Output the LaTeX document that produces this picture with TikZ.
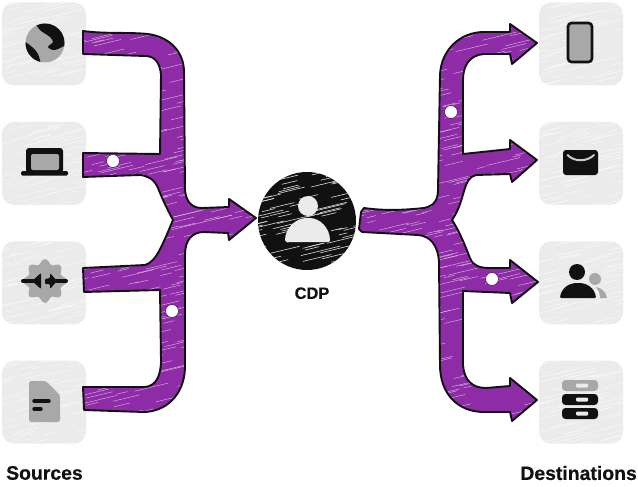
\documentclass[tikz,border=0pt]{standalone}
\usepackage{fontspec}
\setmainfont[BoldFeatures={FakeBold=0.5}]{Liberation Sans}
\usepackage{tikz}
\usetikzlibrary{positioning}
\definecolor{plum}{HTML}{8E2BA6}
\definecolor{ink}{HTML}{111111}
\definecolor{iconmid}{HTML}{A8A8A8}
\definecolor{tilegrey}{HTML}{EBEBEB}
\newcommand{\sketchhatch}[5]{%
  \foreach \i in {1,...,#4}{%
    \pgfmathsetmacro\hx{rnd*#2-20}
    \pgfmathsetmacro\hy{rnd*#3}
    \pgfmathsetmacro\hl{8+rnd*26}
    \draw[#5] ([shift={(\hx,\hy)}]#1) -- ++(\hl,-0.24*\hl);
  }}
\newcommand{\sourceflow}{(83,31) .. controls (105,34) and (128,32) .. (148,34)
  .. controls (170,37) and (184,52) .. (184,72) -- (185,190)
  .. controls (186,202) and (192,208) .. (202,208) -- (229,207) -- (229,199) -- (256,218) -- (229,240) -- (228,233)
  -- (204,232) .. controls (192,232) and (185,240) .. (185,255) -- (185,368)
  .. controls (184,396) and (165,412) .. (143,412) -- (84,410) -- (83,387) -- (145,387)
  .. controls (156,386) and (161,376) .. (161,360) -- (160,290) -- (84,292) -- (83,268) -- (145,265)
  .. controls (156,262) and (162,246) .. (173,220) .. controls (166,207) and (162,198) .. (158,188)
  .. controls (154,179) and (148,176) .. (140,175) -- (83,177) -- (83,153) -- (160,154) -- (161,75)
  .. controls (160,63) and (155,56) .. (145,56) -- (83,54) -- cycle}
\newcommand{\destflow}{(364,208) .. controls (385,211) and (405,210) .. (424,208)
  .. controls (434,206) and (438,200) .. (438,190) -- (440,75)
  .. controls (441,50) and (460,32) .. (484,32) -- (510,32) -- (510,24) -- (537,43) -- (512,64) -- (510,54)
  -- (484,54) .. controls (470,55) and (463,65) .. (463,80) -- (463,154) -- (510,149) -- (510,140) -- (537,160) -- (512,182) -- (510,174)
  -- (476,175) .. controls (462,178) and (466,200) .. (452,220)
  .. controls (460,232) and (466,248) .. (470,258) .. controls (473,266) and (480,268) .. (490,268)
  -- (510,268) -- (510,260) -- (538,282) -- (512,303) -- (510,293) -- (463,291) -- (463,365)
  .. controls (464,380) and (472,388) .. (486,388) -- (510,386) -- (510,378) -- (537,400) -- (512,421) -- (510,412)
  -- (484,412) .. controls (458,412) and (440,394) .. (440,365) -- (439,262)
  .. controls (438,245) and (430,236) .. (418,235) -- (362,232) -- (359,229) -- (361,212) -- cycle}
\begin{document}
\begin{tikzpicture}[x=1pt, y=-1pt,
  tile/.style={fill=tilegrey, rounded corners=12pt, minimum width=84pt, minimum height=83pt, inner sep=0pt,
               path picture={\sketchhatch{path picture bounding box.north west}{100}{90}{70}{white!70!tilegrey, line width=.5pt}}},
  flowline/.style={draw=ink, line width=1.9pt, line join=round},
  dot/.style={circle, fill=white, draw=plum!60!black, line width=.6pt, minimum size=13pt, inner sep=0pt},
  heading/.style={font=\bfseries\fontsize{19.4}{22}\selectfont, text=ink, inner sep=0pt}]
\pgfmathsetseed{11}
\useasboundingbox (0,0) rectangle (638,487);
% tiles
\node[tile] (web) at (44,44) {};
\node[tile, below=36pt of web] (laptop) {};
\node[tile, below=36pt of laptop] (plug) {};
\node[tile, below=36pt of plug] (doc) {};
\node[tile] (phone) at (581,44) {};
\node[tile, below=36pt of phone] (mail) {};
\node[tile, below=36pt of mail] (people) {};
\node[tile, below=36pt of people] (stack) {};
% flows
\coordinate (srcorigin) at (80,25);
\coordinate (dstorigin) at (355,20);
\fill[plum] \sourceflow;
\begin{scope}
  \clip \sourceflow;
  \sketchhatch{srcorigin}{200}{400}{420}{white!70!plum, line width=.4pt}
\end{scope}
\draw[flowline] \sourceflow;
\fill[plum] \destflow;
\begin{scope}
  \clip \destflow;
  \sketchhatch{dstorigin}{210}{410}{420}{white!70!plum, line width=.4pt}
\end{scope}
\draw[flowline] \destflow;
\node[dot] (dota) at (113,161) {};
\node[dot] (dotb) at (172,311) {};
\node[dot] (dotc) at (451,112) {};
\node[dot] (dotd) at (492,279) {};
% centre
\node[circle, fill=ink, minimum size=98pt, inner sep=0pt,
      path picture={\sketchhatch{path picture bounding box.north west}{118}{98}{80}{white!85!ink, line width=.6pt}}] (cdp) at (307,221) {};
\fill[tilegrey] (308,206) circle (10);
\fill[tilegrey, rounded corners=1.5pt] (285,242) .. controls (285,228) and (296,218) .. (308,218) .. controls (320,218) and (330,228) .. (330,242) -- cycle;
\node[below=17pt of cdp, xshift=5pt, font=\bfseries\fontsize{16.4}{18}\selectfont, text=ink, inner sep=0pt] (cdplabel) {CDP};
\node[heading, anchor=west] (sources) at (6,473) {Sources};
\node[heading, anchor=east] (destinations) at (637,473) {Destinations};
% source icons
\fill[iconmid] (45,43) circle (19.5);
\begin{scope}
  \clip (45,43) circle (19.5);
  \fill[ink] plot[smooth cycle] coordinates {(37,22) (39,29) (44,33) (50,37) (53,42) (48,47) (55,50) (68,42) (64,24)};
  \fill[ink] plot[smooth cycle] coordinates {(23,42) (32,47) (38,54) (40,66) (24,62)};
\end{scope}
\fill[ink, rounded corners=3pt] (26,148) rectangle (63,173);
\fill[iconmid, rounded corners=2pt] (31,154) rectangle (59,170);
\fill[ink, rounded corners=1.5pt] (21,171) rectangle (68,175.5);
\fill[iconmid] plot[smooth cycle, domain=0:352, samples=45] ({45+(19.5+2.5*cos(8*\x))*cos(\x)},{281+(19.5+2.5*cos(8*\x))*sin(\x)});
\draw[ink, line width=4pt, line cap=round] (23,281) -- (34,281) (56,281) -- (66,281);
\fill[ink, rounded corners=1pt] (32,281) -- (41,273) -- (41,289) -- cycle;
\fill[ink, rounded corners=1pt] (50,273) -- (57,281) -- (50,289) -- (50,284) -- (45,284) -- (45,279) -- (50,278) -- cycle;
\fill[iconmid, rounded corners=2.5pt] (29,381) -- (46,381) -- (60,395) -- (60,422) -- (29,422) -- cycle;
\draw[ink, line width=3.4pt, line cap=round] (34,401) -- (49,401) (34,409) -- (41,409);
% destination icons
\draw[ink, fill=iconmid, line width=2.6pt, rounded corners=3.5pt] (568,23) rectangle (592,62);
\fill[ink, rounded corners=3pt] (563,150) rectangle (598,175);
\draw[iconmid!60, line width=2pt, line cap=round] (567.5,155) .. controls (574,162) and (587,162) .. (594,155);
\fill[iconmid] (595,279) circle (6);
\fill[iconmid] (596,287) .. controls (602,288) and (606,292) .. (607,298) -- (600,298) .. controls (600,293) and (598,290) .. (596,287) -- cycle;
\fill[ink] (577,272) circle (8);
\fill[ink, rounded corners=1pt] (560,298) .. controls (561,289) and (568,283) .. (578,283) .. controls (588,283) and (595,289) .. (596,298) -- cycle;
\fill[iconmid, rounded corners=3.5pt] (562,380) rectangle (598,391);
\fill[ink, rounded corners=3.5pt] (562,394) rectangle (598,405);
\fill[ink, rounded corners=3.5pt] (562,408) rectangle (598,419);
\fill[tilegrey, rounded corners=1pt] (576,383.5) rectangle (588,387.5) (576,397.5) rectangle (588,401.5) (576,411.5) rectangle (588,415.5);
\end{tikzpicture}
\end{document}
